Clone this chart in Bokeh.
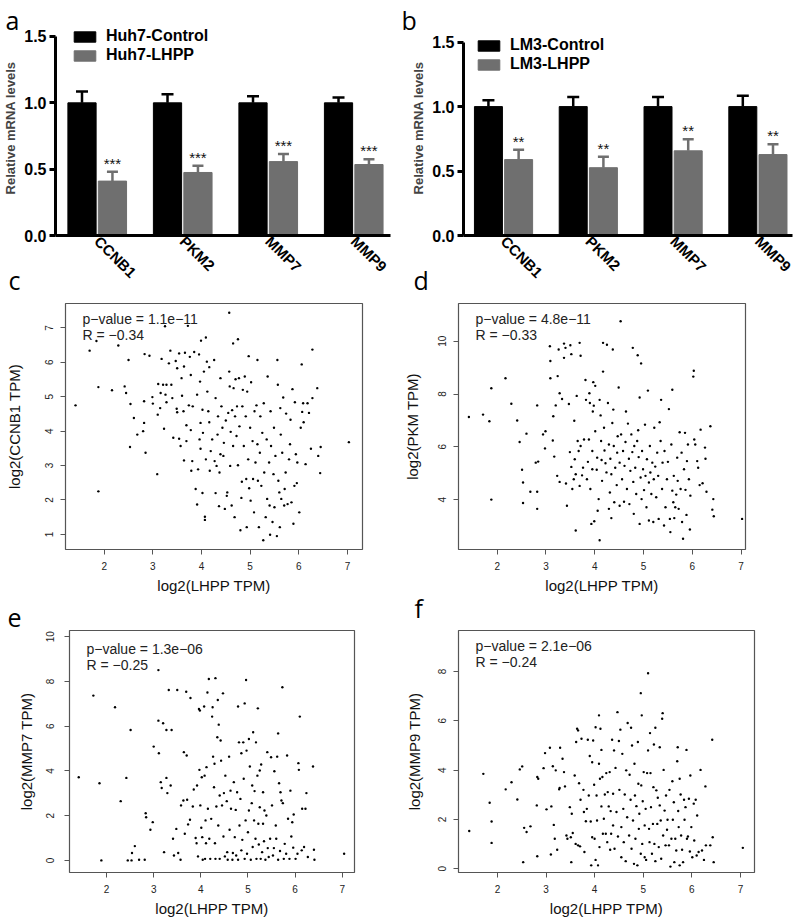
import math
from bokeh.plotting import figure
from bokeh.models import (Range1d, FixedTicker, Label, Whisker, TeeHead,
                          ColumnDataSource, PrintfTickFormatter)
from bokeh.layouts import row, column
from bokeh.embed import file_html
from bokeh.resources import INLINE
from bokeh.core.properties import value

# ---------------- data ----------------
genes = ["CCNB1", "PKM2", "MMP7", "MMP9"]

huh7_control = [1.0, 1.0, 1.0, 1.0]
huh7_control_err = [0.085, 0.065, 0.05, 0.04]
huh7_lhpp = [0.41, 0.475, 0.557, 0.535]
huh7_lhpp_err = [0.07, 0.05, 0.057, 0.04]
huh7_stars = ["***", "***", "***", "***"]

lm3_control = [1.0, 1.0, 1.0, 1.0]
lm3_control_err = [0.05, 0.075, 0.075, 0.085]
lm3_lhpp = [0.589, 0.526, 0.657, 0.628]
lm3_lhpp_err = [0.076, 0.085, 0.089, 0.079]
lm3_stars = ["**", "**", "**", "**"]

bar_yticks = [0.0, 0.5, 1.0, 1.5]
lhpp_ticks = [2, 3, 4, 5, 6, 7]
ccnb1_ticks = [1, 2, 3, 4, 5, 6, 7]
pkm_ticks = [4, 6, 8, 10]
mmp7_ticks = [0, 2, 4, 6, 8, 10]
mmp9_ticks = [0, 2, 4, 6, 8]

# (log2 LHPP TPM, log2 gene TPM) pairs
ccnb1_pts = [
(4.57,7.44),(1.41,4.75),(1.70,6.34),(1.84,6.62),(1.88,5.28),(1.88,2.25),(2.16,5.19),(2.29,6.49),(2.42,5.30),(2.45,5.11),
(2.50,6.07),(2.54,4.79),(2.53,3.54),(2.61,4.38),(2.68,3.90),(2.80,4.00),(2.82,4.24),(2.82,4.87),(2.83,6.24),(2.85,3.37),
(2.93,6.19),(2.99,4.99),(3.00,4.80),(3.09,2.75),(3.10,4.48),(3.11,5.37),(3.15,4.67),(3.16,5.11),(3.18,6.10),(3.21,5.35),
(3.23,4.07),(3.25,7.05),(3.26,5.06),(3.28,5.35),(3.28,4.84),(3.33,5.97),(3.36,6.34),(3.38,5.35),(3.40,4.96),(3.42,3.81),
(3.47,6.04),(3.49,4.65),(3.50,4.55),(3.50,5.83),(3.54,6.26),(3.54,3.78),(3.57,3.57),(3.59,5.54),(3.60,5.03),(3.63,4.58),
(3.64,3.15),(3.64,5.88),(3.66,6.28),(3.69,4.17),(3.69,3.71),(3.72,7.06),(3.74,4.75),(3.76,6.16),(3.78,5.63),(3.78,4.03),
(3.79,2.85),(3.81,3.13),(3.82,4.72),(3.85,6.30),(3.88,2.32),(3.91,1.87),(3.91,5.06),(3.93,2.89),(3.95,6.23),(3.96,3.76),
(3.97,5.44),(3.98,4.24),(3.98,3.49),(3.99,6.63),(4.02,4.62),(4.03,3.95),(4.02,2.20),(4.05,5.73),(4.07,1.42),(4.07,1.51),
(4.09,6.72),(4.09,3.18),(4.11,6.02),(4.12,5.15),(4.14,4.58),(4.16,4.26),(4.16,5.86),(4.17,2.85),(4.19,3.42),(4.22,3.76),
(4.26,6.07),(4.27,3.13),(4.29,2.20),(4.29,4.96),(4.31,2.99),(4.33,3.90),(4.34,4.43),(4.36,1.82),(4.37,2.80),(4.39,5.54),
(4.39,3.33),(4.41,4.72),(4.43,4.10),(4.45,3.28),(4.46,3.66),(4.48,1.74),(4.50,4.31),(4.52,2.12),(4.53,2.22),(4.55,4.53),
(4.57,5.73),(4.58,5.30),(4.59,2.99),(4.60,3.98),(4.62,1.84),(4.63,4.61),(4.65,3.57),(4.65,6.55),(4.66,5.25),(4.68,1.50),
(4.69,4.43),(4.70,5.51),(4.72,3.86),(4.73,4.72),(4.75,6.67),(4.75,3.01),(4.77,5.54),(4.78,4.14),(4.80,1.12),(4.82,2.06),
(4.83,2.53),(4.84,4.72),(4.85,5.20),(4.87,3.57),(4.89,5.59),(4.91,4.43),(4.92,2.61),(4.93,1.21),(4.94,5.15),(4.96,3.18),
(4.97,6.18),(4.98,2.34),(5.00,4.10),(5.01,1.98),(5.02,5.42),(5.05,3.71),(5.06,2.61),(5.08,1.64),(5.09,4.58),(5.11,3.09),
(5.13,4.75),(5.15,6.07),(5.15,3.62),(5.16,2.56),(5.18,1.21),(5.20,3.37),(5.21,4.43),(5.23,2.41),(5.25,3.95),(5.27,0.83),
(5.28,4.81),(5.29,2.80),(5.32,1.50),(5.34,3.76),(5.35,2.03),(5.36,5.59),(5.39,3.09),(5.40,1.84),(5.41,0.99),(5.42,4.58),
(5.43,3.57),(5.46,1.36),(5.48,2.75),(5.49,4.10),(5.50,1.79),(5.52,3.28),(5.55,0.95),(5.56,6.07),(5.57,5.35),(5.58,2.56),
(5.60,2.22),(5.61,1.21),(5.62,4.67),(5.63,3.90),(5.64,2.03),(5.66,3.37),(5.68,4.98),(5.70,1.84),(5.71,2.32),(5.73,2.80),
(5.74,4.51),(5.77,1.88),(5.80,3.18),(5.82,3.62),(5.83,4.33),(5.85,1.93),(5.87,5.22),(5.89,1.31),(5.91,2.41),(5.92,4.84),
(5.94,3.33),(5.96,2.49),(5.97,3.09),(6.01,1.64),(6.04,4.10),(6.06,5.94),(6.07,4.56),(6.09,4.81),(6.10,4.26),(6.14,3.04),
(6.18,4.81),(6.21,4.53),(6.25,3.49),(6.28,6.37),(6.28,4.96),(6.38,5.25),(6.40,3.28),(6.44,2.78),(6.45,3.54),(7.03,3.68)]

pkm_pts = [
(1.42,7.13),(1.71,7.22),(1.84,6.97),(1.88,8.22),(1.88,4.00),(2.17,8.60),(2.29,7.63),(2.41,7.00),(2.46,6.18),(2.51,5.13),
(2.53,4.65),(2.53,3.87),(2.60,6.50),(2.68,4.30),(2.82,7.57),(2.79,5.40),(2.84,5.44),(2.82,4.30),(2.82,3.65),(2.94,6.47),
(2.99,6.59),(2.98,5.94),(3.08,9.81),(3.09,9.25),(3.09,8.60),(3.14,6.24),(3.15,7.16),(3.17,5.63),(3.20,7.57),(3.23,4.90),
(3.24,8.68),(3.26,9.69),(3.28,8.03),(3.28,4.67),(3.33,7.81),(3.37,9.91),(3.37,9.37),(3.40,9.75),(3.41,4.61),(3.43,3.77),
(3.47,7.62),(3.49,5.80),(3.50,9.85),(3.52,9.51),(3.52,5.24),(3.54,4.40),(3.57,4.77),(3.58,6.99),(3.59,5.53),(3.61,4.96),
(3.61,2.83),(3.63,7.93),(3.65,6.22),(3.67,5.84),(3.69,4.52),(3.69,9.94),(3.71,9.45),(3.71,6.03),(3.74,4.92),(3.76,5.21),
(3.78,6.28),(3.81,8.53),(3.82,7.78),(3.84,4.77),(3.86,5.43),(3.88,6.28),(3.89,8.03),(3.90,7.66),(3.91,4.40),(3.93,3.08),
(3.95,5.84),(3.95,5.15),(3.96,7.34),(3.97,8.45),(3.98,7.56),(3.99,3.18),(4.01,8.31),(4.01,6.59),(4.04,5.13),(4.05,5.59),
(4.06,3.58),(4.08,4.02),(4.10,2.46),(4.10,7.78),(4.12,7.19),(4.13,6.22),(4.14,5.50),(4.15,4.71),(4.17,9.94),(4.17,8.85),
(4.19,6.72),(4.20,5.86),(4.22,5.38),(4.24,5.03),(4.25,9.87),(4.27,7.66),(4.29,3.65),(4.29,6.09),(4.31,4.27),(4.32,5.55),
(4.34,4.96),(4.34,3.30),(4.36,6.90),(4.37,9.69),(4.38,7.41),(4.39,6.03),(4.40,3.90),(4.42,5.21),(4.45,4.55),(4.46,5.78),
(4.47,6.40),(4.49,8.25),(4.51,3.77),(4.51,5.40),(4.53,10.76),(4.54,6.47),(4.56,4.77),(4.58,5.84),(4.60,3.92),(4.61,5.28),
(4.63,6.18),(4.64,7.34),(4.66,4.40),(4.68,6.88),(4.70,5.55),(4.71,3.83),(4.73,5.09),(4.75,6.47),(4.77,5.80),(4.78,9.75),
(4.79,4.67),(4.80,3.46),(4.81,6.03),(4.83,5.21),(4.85,4.21),(4.87,6.22),(4.88,9.47),(4.89,6.63),(4.90,5.61),(4.92,3.08),
(4.92,7.87),(4.94,4.84),(4.95,9.16),(4.96,4.02),(4.97,5.84),(4.99,5.15),(5.01,4.36),(5.03,6.84),(5.04,4.90),(5.06,3.71),
(5.07,5.53),(5.09,8.13),(5.11,3.21),(5.11,4.65),(5.13,6.03),(5.14,5.03),(5.16,4.21),(5.18,5.40),(5.20,3.15),(5.21,4.77),
(5.22,6.72),(5.24,5.25),(5.26,4.09),(5.28,5.78),(5.30,4.90),(5.31,3.27),(5.33,6.93),(5.35,6.22),(5.36,7.78),(5.38,4.40),
(5.39,5.40),(5.42,3.02),(5.43,5.84),(5.45,3.71),(5.48,4.77),(5.50,5.43),(5.52,7.43),(5.54,3.27),(5.55,2.77),(5.57,6.09),
(5.59,8.16),(5.59,4.34),(5.61,3.90),(5.62,4.90),(5.63,3.30),(5.65,3.71),(5.67,4.19),(5.69,5.59),(5.70,4.71),(5.72,3.65),
(5.74,6.55),(5.76,4.40),(5.78,5.78),(5.79,3.15),(5.81,2.52),(5.83,5.15),(5.85,6.53),(5.86,4.37),(5.88,3.42),(5.89,5.46),
(5.91,6.09),(5.93,4.77),(5.95,2.87),(5.96,4.15),(6.02,8.66),(6.03,8.88),(6.04,6.28),(6.06,6.09),(6.10,5.46),(6.12,5.21),
(6.15,4.55),(6.17,6.65),(6.21,4.62),(6.26,5.97),(6.27,5.55),(6.29,4.30),(6.37,6.78),(6.41,3.62),(6.43,4.02),(6.44,3.37),
(7.02,3.27)]

mmp7_pts = [
(1.41,3.72),(1.72,7.37),(1.85,3.45),(1.89,0.00),(2.18,6.85),(2.30,2.65),(2.42,3.69),(2.45,0.00),(2.51,5.83),(2.53,0.00),
(2.54,0.33),(2.60,0.64),(2.69,0.03),(2.81,0.03),(2.83,2.11),(2.84,1.93),(2.93,1.37),(2.98,1.71),(3.00,5.09),(3.10,8.51),
(3.10,6.25),(3.11,4.79),(3.15,3.50),(3.17,3.24),(3.20,6.13),(3.22,0.37),(3.27,3.69),(3.27,5.83),(3.29,3.01),(3.32,7.62),
(3.36,3.35),(3.38,5.83),(3.41,0.97),(3.43,0.22),(3.48,1.41),(3.50,7.62),(3.52,0.33),(3.57,0.03),(3.58,2.46),(3.63,2.68),
(3.64,4.84),(3.66,1.19),(3.69,7.54),(3.70,4.69),(3.71,2.71),(3.73,1.61),(3.77,1.82),(3.78,7.26),(3.83,2.41),(3.85,3.17),
(3.89,1.00),(3.91,0.77),(3.92,3.35),(3.94,0.18),(3.96,6.77),(3.97,4.05),(3.98,6.70),(3.99,2.46),(4.01,1.46),(4.02,3.72),
(4.03,1.04),(4.04,0.03),(4.07,6.88),(4.08,3.79),(4.09,0.07),(4.10,1.79),(4.11,0.77),(4.12,4.17),(4.14,7.51),(4.15,2.31),
(4.17,8.11),(4.18,0.97),(4.20,0.07),(4.22,1.86),(4.24,6.43),(4.25,6.85),(4.26,4.64),(4.28,3.27),(4.29,4.32),(4.30,0.77),
(4.31,8.15),(4.31,0.07),(4.33,2.41),(4.35,5.51),(4.36,7.17),(4.37,1.56),(4.38,6.07),(4.40,2.90),(4.40,0.07),(4.42,5.36),
(4.43,4.46),(4.45,2.46),(4.47,7.47),(4.48,1.07),(4.49,3.01),(4.51,0.18),(4.52,3.79),(4.55,2.65),(4.56,0.37),(4.57,0.03),
(4.60,4.64),(4.61,1.37),(4.63,3.12),(4.64,2.31),(4.67,0.03),(4.68,0.33),(4.70,3.50),(4.72,1.04),(4.74,2.26),(4.75,0.22),
(4.77,3.05),(4.79,6.88),(4.79,0.03),(4.81,5.28),(4.82,1.56),(4.84,2.75),(4.86,4.79),(4.86,0.45),(4.88,0.92),(4.90,5.28),
(4.91,3.65),(4.93,7.02),(4.93,0.07),(4.95,1.79),(4.96,8.07),(4.97,4.91),(4.98,0.30),(5.00,1.26),(5.02,5.43),(5.02,2.23),
(5.04,4.20),(5.06,0.03),(5.08,2.56),(5.09,3.35),(5.10,0.60),(5.11,5.73),(5.13,1.79),(5.14,3.10),(5.16,0.97),(5.17,5.28),
(5.18,0.07),(5.20,3.79),(5.21,6.80),(5.22,1.64),(5.23,0.71),(5.25,4.02),(5.25,2.38),(5.27,0.07),(5.28,4.29),(5.30,0.37),
(5.32,3.05),(5.32,1.64),(5.34,0.86),(5.35,2.23),(5.37,0.03),(5.39,2.01),(5.41,4.84),(5.42,0.55),(5.44,0.15),(5.47,0.97),
(5.49,4.61),(5.51,2.46),(5.53,0.22),(5.55,0.55),(5.56,3.99),(5.59,1.56),(5.60,0.97),(5.62,4.64),(5.64,0.03),(5.64,5.68),
(5.66,3.45),(5.68,0.42),(5.69,3.05),(5.71,2.68),(5.73,7.74),(5.74,2.56),(5.76,0.07),(5.78,0.74),(5.81,0.30),(5.83,4.69),
(5.85,1.86),(5.88,0.07),(5.90,3.12),(5.92,1.07),(5.94,1.71),(5.96,0.57),(5.97,2.05),(6.01,0.07),(6.05,0.30),(6.07,4.35),
(6.08,4.05),(6.10,6.43),(6.14,0.45),(6.15,2.31),(6.19,0.60),(6.22,2.31),(6.24,3.01),(6.27,0.15),(6.38,4.20),(6.40,0.48),
(6.41,0.03),(7.04,0.30)]

mmp9_pts = [
(1.42,1.53),(1.71,3.85),(1.84,2.68),(1.88,1.92),(1.88,1.05),(2.17,3.22),(2.29,3.51),(2.41,2.81),(2.46,4.03),(2.51,4.15),
(2.53,0.27),(2.55,1.66),(2.60,1.49),(2.68,1.72),(2.81,2.57),(2.82,3.72),(2.84,3.65),(2.82,0.51),(2.95,4.08),(2.98,4.69),
(3.01,2.41),(3.08,4.91),(3.10,0.58),(3.11,2.53),(3.14,4.16),(3.16,1.78),(3.18,1.22),(3.20,3.99),(3.23,0.77),(3.27,3.22),
(3.28,3.28),(3.29,4.91),(3.34,4.46),(3.37,3.92),(3.39,3.34),(3.42,1.35),(3.44,1.22),(3.49,2.50),(3.51,1.28),(3.52,0.27),
(3.53,2.23),(3.55,1.45),(3.59,3.78),(3.61,1.01),(3.62,5.14),(3.64,5.68),(3.66,5.61),(3.66,0.95),(3.68,3.47),(3.70,0.91),
(3.71,2.80),(3.73,5.27),(3.77,3.20),(3.78,2.30),(3.79,0.68),(3.82,1.93),(3.84,2.43),(3.86,5.23),(3.88,2.97),(3.90,4.57),
(3.92,1.92),(3.93,0.14),(3.95,4.32),(3.95,1.28),(3.97,5.20),(3.99,3.41),(4.00,1.22),(4.02,5.74),(4.02,0.36),(4.04,2.97),
(4.05,1.96),(4.07,0.14),(4.09,6.22),(4.09,4.26),(4.10,0.88),(4.11,3.65),(4.12,5.68),(4.14,2.53),(4.14,4.82),(4.16,3.72),
(4.17,1.42),(4.19,2.03),(4.21,3.01),(4.23,1.42),(4.24,3.88),(4.26,1.08),(4.27,3.11),(4.29,2.53),(4.31,3.92),(4.32,0.77),
(4.33,2.34),(4.34,1.42),(4.36,5.23),(4.38,3.04),(4.38,1.76),(4.40,4.80),(4.41,0.81),(4.43,4.09),(4.45,2.30),(4.47,6.35),
(4.48,1.31),(4.50,5.18),(4.51,3.20),(4.53,5.64),(4.55,1.69),(4.55,0.47),(4.57,4.66),(4.59,2.43),(4.60,1.08),(4.62,3.01),
(4.64,0.31),(4.65,3.99),(4.67,2.09),(4.68,5.91),(4.71,1.35),(4.72,3.81),(4.74,2.80),(4.75,5.72),(4.76,0.81),(4.77,5.00),
(4.79,1.96),(4.81,0.20),(4.82,4.26),(4.83,2.97),(4.84,1.22),(4.86,2.54),(4.88,0.14),(4.89,5.14),(4.90,3.45),(4.91,1.62),
(4.92,2.23),(4.95,7.12),(4.95,0.61),(4.96,3.38),(4.97,6.22),(4.98,1.01),(4.99,2.74),(5.01,3.92),(5.03,1.76),(5.03,0.47),
(5.05,2.43),(5.06,0.36),(5.08,3.88),(5.10,4.80),(5.10,7.93),(5.12,1.62),(5.13,1.08),(5.14,5.50),(5.15,3.88),(5.16,2.50),
(5.18,0.61),(5.20,1.82),(5.21,3.31),(5.22,5.04),(5.23,1.01),(5.25,5.72),(5.25,0.31),(5.27,3.18),(5.29,1.82),(5.30,2.88),
(5.32,0.88),(5.34,2.57),(5.34,4.93),(5.36,1.96),(5.37,0.41),(5.39,6.08),(5.40,6.31),(5.41,1.35),(5.42,4.01),(5.44,2.36),
(5.46,0.95),(5.47,2.97),(5.49,1.58),(5.50,1.99),(5.53,0.95),(5.54,3.20),(5.56,0.09),(5.58,1.22),(5.60,3.55),(5.61,1.99),
(5.63,2.70),(5.64,0.27),(5.66,1.22),(5.68,0.74),(5.70,4.36),(5.71,4.93),(5.72,2.34),(5.73,1.69),(5.75,0.14),(5.75,3.65),
(5.77,3.01),(5.78,1.35),(5.80,0.77),(5.82,0.27),(5.84,2.80),(5.85,1.99),(5.87,2.50),(5.89,4.82),(5.90,1.22),(5.92,1.31),
(5.94,2.84),(5.96,0.70),(5.97,3.78),(5.99,1.69),(6.01,0.47),(6.04,2.64),(6.05,1.15),(6.08,2.80),(6.10,0.54),(6.11,2.16),
(6.14,0.68),(6.18,4.01),(6.21,0.74),(6.25,0.36),(6.28,3.34),(6.29,0.95),(6.38,0.95),(6.42,5.23),(6.43,1.28),(6.45,0.27),
(7.05,0.85)]

FONT = "Liberation Sans"
LETTER_FONT = "Open Sans"
GREY = "#6f6f6f"


def style_letter(p, letter, offset, standoff):
    t = p.title
    t.text = letter
    t.align = "left"
    t.vertical_align = "bottom"
    t.offset = offset
    t.standoff = standoff
    t.text_font = LETTER_FONT
    t.text_font_size = "25px"
    t.text_font_style = "normal"
    t.text_color = "black"


def bar_panel(labels, ctrl, ctrl_err, lhpp, lhpp_err, stars, xr, ytop,
              borders, legend_loc, letter, letter_offset):
    left, right, top, bottom = borders
    p = figure(width=400, height=305, x_range=Range1d(*xr), y_range=Range1d(0, ytop),
               output_backend="svg", toolbar_location=None,
               min_border_left=left, min_border_right=right,
               min_border_top=top, min_border_bottom=bottom)
    style_letter(p, letter, letter_offset, -33)
    idx = list(range(len(genes)))
    off = 0.178
    src = ColumnDataSource(dict(
        xc=[i - off for i in idx], xl=[i + off for i in idx],
        ctrl=ctrl, ctrl_top=[v + e for v, e in zip(ctrl, ctrl_err)],
        lhpp=lhpp, lhpp_top=[v + e for v, e in zip(lhpp, lhpp_err)],
        stars=stars))
    p.add_layout(Whisker(source=src, base="xc", lower="ctrl", upper="ctrl_top",
                         dimension="height", line_color="black", line_width=2.5,
                         upper_head=TeeHead(size=12, line_color="black", line_width=2.5),
                         lower_head=None, level="annotation"))
    p.add_layout(Whisker(source=src, base="xl", lower="lhpp", upper="lhpp_top",
                         dimension="height", line_color=GREY, line_width=2.5,
                         upper_head=TeeHead(size=11, line_color=GREY, line_width=2.5),
                         lower_head=None, level="annotation"))
    p.vbar(x="xc", top="ctrl", width=0.33, source=src, fill_color="black",
           line_color="black", legend_label=labels[0])
    p.vbar(x="xl", top="lhpp", width=0.33, source=src, fill_color=GREY,
           line_color=GREY, legend_label=labels[1])
    p.text(x="xl", y="lhpp_top", text="stars", source=src, text_align="center",
           text_baseline="bottom", text_font=value(FONT),
           text_font_size="15px", text_color="#111111")

    lg = p.legend[0]
    lg.location = legend_loc
    lg.glyph_width = 27
    lg.glyph_height = 13
    lg.label_height = 13
    lg.label_standoff = 8
    lg.spacing = 1
    lg.padding = 0
    lg.margin = 0
    lg.border_line_color = None
    lg.background_fill_alpha = 0
    lg.label_text_font = FONT
    lg.label_text_font_style = "bold"
    lg.label_text_font_size = "16px"
    lg.label_text_color = "black"

    p.xgrid.visible = False
    p.ygrid.visible = False
    p.outline_line_color = None

    p.yaxis.ticker = FixedTicker(ticks=bar_yticks)
    p.yaxis.formatter = PrintfTickFormatter(format="%.1f")
    p.yaxis.bounds = (bar_yticks[0], bar_yticks[-1])
    p.yaxis.axis_label = "Relative mRNA levels"
    p.yaxis.axis_label_text_font = FONT
    p.yaxis.axis_label_text_font_style = "bold"
    p.yaxis.axis_label_text_font_size = "13px"
    p.yaxis.axis_label_standoff = 3

    p.xaxis.ticker = FixedTicker(ticks=idx)
    p.xaxis.major_label_overrides = {i: g for i, g in zip(idx, genes)}
    p.xaxis.major_label_orientation = -math.pi / 4
    p.xaxis.major_tick_out = 0
    p.xaxis.major_label_standoff = 3

    for ax in (p.xaxis, p.yaxis):
        ax.axis_line_width = 3
        ax.axis_line_color = "black"
        ax.major_tick_line_width = 3
        ax.major_tick_in = 0
        ax.minor_tick_in = 0
        ax.minor_tick_out = 0
        ax.major_label_text_font = FONT
        ax.major_label_text_font_style = "bold"
        ax.major_label_text_font_size = "15px"
        ax.major_label_text_color = "black"
    p.yaxis.major_tick_out = 6
    p.yaxis.major_label_text_font_size = "16px"
    p.yaxis.major_label_standoff = 3
    return p


def scatter_panel(pts, xr, yr, yticks, ylab, ptxt, rtxt, height, borders,
                  ylab_standoff, ytick_standoff, text_y, letter, letter_offset,
                  letter_standoff):
    left, right, top, bottom = borders
    xs = [a for a, b in pts]
    ys = [b for a, b in pts]
    p = figure(width=400, height=height, x_range=Range1d(*xr), y_range=Range1d(*yr),
               output_backend="svg", toolbar_location=None,
               min_border_left=left, min_border_right=right,
               min_border_top=top, min_border_bottom=bottom)
    style_letter(p, letter, letter_offset, letter_standoff)
    p.border_fill_color = None
    p.scatter(xs, ys, marker="circle", size=2.4, fill_color="black", line_color=None)
    p.xgrid.visible = False
    p.ygrid.visible = False
    p.outline_line_color = "#555555"
    p.outline_line_width = 1.2
    p.xaxis.ticker = FixedTicker(ticks=lhpp_ticks)
    p.yaxis.ticker = FixedTicker(ticks=yticks)
    p.xaxis.axis_label = "log2(LHPP TPM)"
    p.yaxis.axis_label = ylab
    p.yaxis.major_label_orientation = "vertical"
    for ax in (p.xaxis, p.yaxis):
        ax.axis_line_color = None
        ax.major_tick_line_color = "#555555"
        ax.major_tick_line_width = 1
        ax.major_tick_out = 5
        ax.major_tick_in = 0
        ax.minor_tick_out = 0
        ax.minor_tick_in = 0
        ax.major_label_text_font = FONT
        ax.major_label_text_font_size = "10px"
        ax.major_label_text_color = "#222222"
        ax.axis_label_text_font = FONT
        ax.axis_label_text_font_size = "15px"
        ax.axis_label_text_font_style = "normal"
        ax.axis_label_text_color = "#111111"
    p.xaxis.major_label_standoff = 7
    p.xaxis.axis_label_standoff = 4
    p.yaxis.major_label_standoff = ytick_standoff
    p.yaxis.axis_label_standoff = ylab_standoff
    for txt, ty in zip((ptxt, rtxt), text_y):
        p.add_layout(Label(x=17, y=ty, x_units="screen", y_units="screen", text=txt,
                           text_font=FONT, text_font_size="14px", text_color="#222222",
                           text_baseline="alphabetic"))
    return p


# row 1: bar charts, canvas y 0..305 (frames 20..235 in both)
pa = bar_panel(["Huh7-Control", "Huh7-LHPP"], huh7_control, huh7_control_err,
               huh7_lhpp, huh7_lhpp_err, huh7_stars, (-0.488, 3.43), 1.6206,
               (53, 10, 20, 70), (16, 171), "a", -50)
pb = bar_panel(["LM3-Control", "LM3-LHPP"], lm3_control, lm3_control_err,
               lm3_lhpp, lm3_lhpp_err, lm3_stars, (-0.472, 3.408), 1.668,
               (63, 8, 20, 70), (12, 162), "b", -62)

# row 2: canvas y 247..596 (overlaps row 1, transparent border), frames 303..551
pc = scatter_panel(ccnb1_pts, (1.204, 7.31), (0.56, 7.71), ccnb1_ticks, "log2(CCNB1 TPM)",
                   "p\u2212value = 1.1e\u221211", "R = \u22120.34", 349,
                   (65, 38, 56, 45), 20, 7, (231, 215), "c", -57, 13)
pd_ = scatter_panel(pkm_pts, (1.207, 7.09), (2.11, 11.43), pkm_ticks, "log2(PKM TPM)",
                    "p\u2212value = 4.8e\u221211", "R = \u22120.33", 349,
                    (58, 55, 56, 45), 15, 7, (231, 215), "d", -45, 13)
# row 3: canvas y 581..921, frames 630..872
pe = scatter_panel(mmp7_pts, (1.214, 7.26), (-0.54, 10.28), mmp7_ticks, "log2(MMP7 TPM)",
                   "p\u2212value = 1.3e\u221206", "R = \u22120.25", 340,
                   (69, 46, 49, 49), 9, 10, (224, 208), "e", -62, 7)
pf = scatter_panel(mmp9_pts, (1.199, 7.29), (-0.15, 9.66), mmp9_ticks, "log2(MMP9 TPM)",
                   "p\u2212value = 2.1e\u221206", "R = \u22120.24", 340,
                   (58, 46, 49, 49), 13, 7, (227, 211), "f", -44, 11)

row1 = row(pa, pb)
row2 = row(pc, pd_, margin=(-58, 0, 0, 0))
row3 = row(pe, pf, margin=(-15, 0, 0, 0))
layout = column(row1, row2, row3)

with open("out.html", "w") as f:
    f.write(file_html(layout, INLINE))
